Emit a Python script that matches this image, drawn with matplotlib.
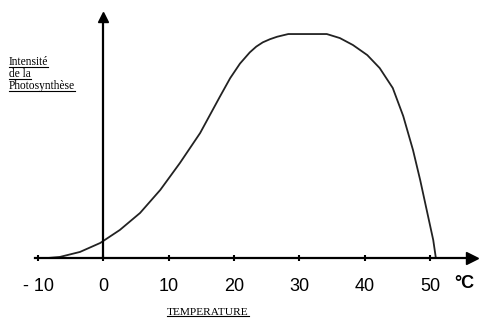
import matplotlib
matplotlib.use("Agg")
import matplotlib.pyplot as plt
from matplotlib.lines import Line2D

# curve (temperature in degC, intensity in % of max)
temp = [-8.5, -6.7, -3.6, -0.5, 2.5, 5.6, 8.7, 11.7, 14.8, 17.8, 19.4, 20.9,
        22.4, 23.4, 24.4, 25.5, 26.6, 28.3, 31.0, 34.2, 36.2, 38.2, 40.4, 42.3,
        44.3, 45.9, 47.4, 48.5, 49.5, 50.5, 50.9]
intensity = [0.0, 0.45, 2.7, 6.7, 12.5, 20.1, 30.4, 42.4, 55.8, 71.9, 80.3, 86.8,
             91.8, 94.4, 96.3, 97.7, 98.8, 100.0, 100.0, 100.0, 98.2, 95.1, 90.6,
             84.8, 75.9, 63.4, 48.2, 34.8, 21.4, 8.0, 0.0]

xticks = [-10, 0, 10, 20, 30, 40, 50]
xticklabels = ["- 10", "0", "10", "20", "30", "40", "50"]


def underline(fig, txt, lw=0.8):
    fig.canvas.draw()
    bb = txt.get_window_extent()
    inv = fig.transFigure.inverted()
    (x0, y0), (x1, _) = inv.transform([(bb.x0, bb.y0), (bb.x1, bb.y0)])
    fig.add_artist(Line2D([x0, x1], [y0 + 0.003, y0 + 0.003], color="black", lw=lw))


def main():
    fig = plt.figure(figsize=(5.02, 3.33), dpi=100)
    ax = fig.add_axes([0, 0, 1, 1])
    ax.set_xlim(-15.85, 61.03)
    ax.set_ylim(-33.5, 115.2)

    ax.plot(temp, intensity, color="#222222", lw=1.3)

    # axes through the origin
    for side in ["top", "right"]:
        ax.spines[side].set_visible(False)
    ax.spines["bottom"].set_position(("data", 0))
    ax.spines["left"].set_position(("data", 0))
    ax.spines["bottom"].set_bounds(-10.5, 56.0)
    ax.spines["left"].set_bounds(0, 107)
    ax.spines["bottom"].set_linewidth(1.6)
    ax.spines["left"].set_linewidth(1.6)
    ax.plot(56.5, 0, ">", color="black", ms=8, clip_on=False)
    ax.plot(0, 107.5, "^", color="black", ms=7, clip_on=False)

    ax.set_yticks([])
    ax.set_xticks(xticks)
    ax.set_xticklabels(xticklabels, fontfamily="Liberation Sans", fontsize=13)
    ax.tick_params(axis="x", direction="inout", length=5, width=1.5, pad=12)

    ax.text(55.3, -11.5, "°C", fontfamily="Liberation Sans", fontsize=13,
            fontweight="bold", ha="center", va="center")

    t1 = ax.text(-14.5, 87.5, "Intensité", fontfamily="Liberation Serif",
                 fontsize=8.3, va="center")
    t2 = ax.text(-14.5, 82.3, "de la", fontfamily="Liberation Serif",
                 fontsize=8.3, va="center")
    t3 = ax.text(-14.5, 76.6, "Photosynthèse", fontfamily="Liberation Serif",
                 fontsize=8.3, va="center")
    t4 = ax.text(16.0, -24.5, "TEMPERATURE", fontfamily="Liberation Serif",
                 fontsize=8.2, ha="center", va="center")
    for t in [t1, t2, t3, t4]:
        underline(fig, t)

    fig.savefig("out.png", dpi=100)


if __name__ == '__main__':
    main()
